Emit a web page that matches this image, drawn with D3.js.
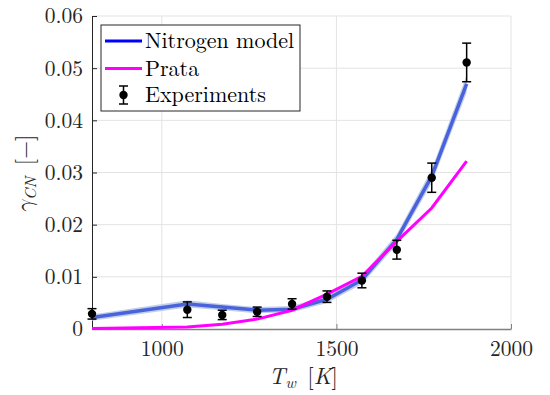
<!DOCTYPE html>
<html>
<head>
<meta charset="utf-8">
<script src="https://cdn.jsdelivr.net/npm/d3@7"></script>
<style>
	body { margin: 0; background: #fff; }
</style>
</head>
<body>
<svg id="chart"></svg>
<script>
// wall temperature of each measurement / model point [K]
const temps = [800, 1073, 1173, 1273, 1373, 1473, 1573, 1673, 1773, 1873];

// experiments: gamma_CN and its error bar half-width
const expValues = [0.0029, 0.0037, 0.0027, 0.0033, 0.0048, 0.0062, 0.0093, 0.0152, 0.0290, 0.0511];
const expErrors = [0.0010, 0.0015, 0.0009, 0.0009, 0.0010, 0.0011, 0.0014, 0.0018, 0.0028, 0.0037];

// nitrogen model and its uncertainty half-width (light band)
const modelValues = [0.0022, 0.0048, 0.0042, 0.0036, 0.0038, 0.0057, 0.0094, 0.0172, 0.0293, 0.0470];
const modelBand = [0.0006, 0.0007, 0.0006, 0.0006, 0.0006, 0.0007, 0.0008, 0.0010, 0.0013, 0.0017];

// Prata model
const prataValues = [0.0001, 0.0004, 0.0009, 0.0019, 0.0036, 0.0067, 0.0101, 0.0168, 0.0232, 0.0322];

const xTicks = [1000, 1500, 2000];
const yTicks = [0, 0.01, 0.02, 0.03, 0.04, 0.05, 0.06];
const legendLabels = ['Nitrogen model', 'Prata', 'Experiments'];

const FONT = '"Latin Modern Roman", "Latin Modern Math", "Liberation Serif", serif';

class GammaChart {

	constructor(_config) {
		this.config = {
			parentElement: _config.parentElement,
			containerWidth: _config.containerWidth || 550,
			containerHeight: _config.containerHeight || 395,
			margin: _config.margin || { top: 16, right: 39, bottom: 66, left: 92 }
		}
		this.initVis();
	}

	initVis() {
		let vis = this;

		vis.width = vis.config.containerWidth - vis.config.margin.left - vis.config.margin.right;
		vis.height = vis.config.containerHeight - vis.config.margin.top - vis.config.margin.bottom;

		vis.xScale = d3.scaleLinear()
			.domain([800, 2000])
			.range([0, vis.width]);

		vis.yScale = d3.scaleLinear()
			.domain([0, 0.06])
			.range([vis.height, 0]);

		vis.svg = d3.select(vis.config.parentElement)
			.attr('width', vis.config.containerWidth)
			.attr('height', vis.config.containerHeight);

		vis.chart = vis.svg.append('g')
			.attr('transform', `translate(${vis.config.margin.left},${vis.config.margin.top})`);

		// grid lines
		vis.chart.append('g')
			.selectAll('line')
			.data(yTicks.slice(1))
			.join('line')
			.attr('x1', 0)
			.attr('x2', vis.width)
			.attr('y1', d => vis.yScale(d))
			.attr('y2', d => vis.yScale(d))
			.attr('stroke', '#e3e3e3');

		vis.chart.append('g')
			.selectAll('line')
			.data(xTicks)
			.join('line')
			.attr('x1', d => vis.xScale(d))
			.attr('x2', d => vis.xScale(d))
			.attr('y1', 0)
			.attr('y2', vis.height)
			.attr('stroke', '#e3e3e3');

		// axes, MATLAB style with inward ticks
		vis.xAxis = d3.axisBottom(vis.xScale)
			.tickValues(xTicks)
			.tickSizeInner(-5)
			.tickSizeOuter(0)
			.tickPadding(12)
			.tickFormat(d3.format('d'));

		vis.yAxis = d3.axisLeft(vis.yScale)
			.tickValues(yTicks)
			.tickSizeInner(-5)
			.tickSizeOuter(0)
			.tickPadding(9)
			.tickFormat(d => d === 0 ? '0' : d3.format('.2f')(d));

		vis.xAxisG = vis.chart.append('g')
			.attr('transform', `translate(0,${vis.height})`)
			.call(vis.xAxis);

		vis.yAxisG = vis.chart.append('g')
			.call(vis.yAxis);

		[vis.xAxisG, vis.yAxisG].forEach(g => {
			g.selectAll('text')
				.style('font-family', FONT)
				.style('font-size', '21.5px')
				.attr('fill', '#262626');
		});
		vis.xAxisG.select('.domain').attr('stroke', '#808080').attr('stroke-width', 1.5);
		vis.xAxisG.selectAll('.tick line').attr('stroke', '#808080');
		vis.yAxisG.select('.domain').attr('stroke', '#262626');
		vis.yAxisG.selectAll('.tick line').attr('stroke', '#262626');

		// axis labels
		let xl = vis.svg.append('text')
			.style('font-family', FONT)
			.style('font-size', '23px')
			.attr('fill', '#262626')
			.attr('text-anchor', 'middle')
			.attr('x', vis.config.margin.left + vis.xScale(1405))
			.attr('y', 384);
		xl.append('tspan').attr('font-style', 'italic').text('T');
		xl.append('tspan').attr('font-style', 'italic').style('font-size', '16px').attr('dy', 4).text('w');
		xl.append('tspan').attr('dy', -4).text('\u2002[');
		xl.append('tspan').attr('font-style', 'italic').text('K');
		xl.append('tspan').text(']');

		let yl = vis.svg.append('text')
			.style('font-family', FONT)
			.style('font-size', '23px')
			.attr('fill', '#262626')
			.attr('text-anchor', 'middle')
			.attr('transform', `translate(32, 174) rotate(-90)`);
		yl.append('tspan').attr('font-style', 'italic').text('γ');
		yl.append('tspan').attr('font-style', 'italic').style('font-size', '16px').attr('dy', 4).text('CN');
		yl.append('tspan').attr('dy', -4).text('\u2002[−]');

		this.renderVis();
	}

	renderVis() {
		let vis = this;

		let modelData = temps.map((t, i) => ({ t: t, v: modelValues[i], b: modelBand[i] }));
		let prataData = temps.map((t, i) => ({ t: t, v: prataValues[i] }));
		let expData = temps.map((t, i) => ({ t: t, v: expValues[i], e: expErrors[i] }));

		// uncertainty band of the model
		let area = d3.area()
			.x(d => vis.xScale(d.t))
			.y0(d => vis.yScale(d.v - d.b))
			.y1(d => vis.yScale(d.v + d.b));

		vis.chart.append('path')
			.datum(modelData)
			.attr('d', area)
			.attr('fill', '#b9cbe6')
			.attr('opacity', 0.9);

		let line = d3.line()
			.x(d => vis.xScale(d.t))
			.y(d => vis.yScale(d.v));

		vis.chart.append('path')
			.datum(modelData)
			.attr('d', line)
			.attr('fill', 'none')
			.attr('stroke', '#4a63dc')
			.attr('stroke-width', 3.5);

		vis.chart.append('path')
			.datum(prataData)
			.attr('d', line)
			.attr('fill', 'none')
			.attr('stroke', '#ff00ff')
			.attr('stroke-width', 3);

		// experiments with error bars
		let pts = vis.chart.append('g')
			.selectAll('g')
			.data(expData)
			.join('g');

		pts.append('line')
			.attr('x1', d => vis.xScale(d.t))
			.attr('x2', d => vis.xScale(d.t))
			.attr('y1', d => vis.yScale(d.v - d.e))
			.attr('y2', d => vis.yScale(d.v + d.e))
			.attr('stroke', '#000')
			.attr('stroke-width', 1.5);

		[-1, 1].forEach(s => {
			pts.append('line')
				.attr('x1', d => vis.xScale(d.t) - 4.5)
				.attr('x2', d => vis.xScale(d.t) + 4.5)
				.attr('y1', d => vis.yScale(d.v + s * d.e))
				.attr('y2', d => vis.yScale(d.v + s * d.e))
				.attr('stroke', '#000')
				.attr('stroke-width', 1.5);
		});

		pts.append('circle')
			.attr('cx', d => vis.xScale(d.t))
			.attr('cy', d => vis.yScale(d.v))
			.attr('r', 4.2)
			.attr('fill', '#000');

		// legend
		let legend = vis.svg.append('g')
			.attr('transform', 'translate(101,25)');

		legend.append('rect')
			.attr('width', 199)
			.attr('height', 86)
			.attr('fill', '#fff')
			.attr('stroke', '#262626');

		let rows = [16, 43.5, 70];
		legend.append('line')
			.attr('x1', 4).attr('x2', 41)
			.attr('y1', rows[0]).attr('y2', rows[0])
			.attr('stroke', '#0000ff').attr('stroke-width', 3);
		legend.append('line')
			.attr('x1', 4).attr('x2', 41)
			.attr('y1', rows[1]).attr('y2', rows[1])
			.attr('stroke', '#ff00ff').attr('stroke-width', 3);

		let ex = legend.append('g').attr('transform', `translate(22.5,${rows[2]})`);
		ex.append('line').attr('y1', -9).attr('y2', 9).attr('stroke', '#000').attr('stroke-width', 1.5);
		ex.append('line').attr('x1', -4.5).attr('x2', 4.5).attr('y1', -9).attr('y2', -9).attr('stroke', '#000').attr('stroke-width', 1.5);
		ex.append('line').attr('x1', -4.5).attr('x2', 4.5).attr('y1', 9).attr('y2', 9).attr('stroke', '#000').attr('stroke-width', 1.5);
		ex.append('circle').attr('r', 4.2).attr('fill', '#000');

		legend.selectAll('.legend-text')
			.data(legendLabels)
			.join('text')
			.attr('class', 'legend-text')
			.style('font-family', FONT)
			.style('font-size', '22px')
			.attr('fill', '#000')
			.attr('x', 44)
			.attr('y', (d, i) => rows[i] + 7)
			.text(d => d);
	}
}

new GammaChart({ parentElement: '#chart' });
</script>
</body>
</html>
